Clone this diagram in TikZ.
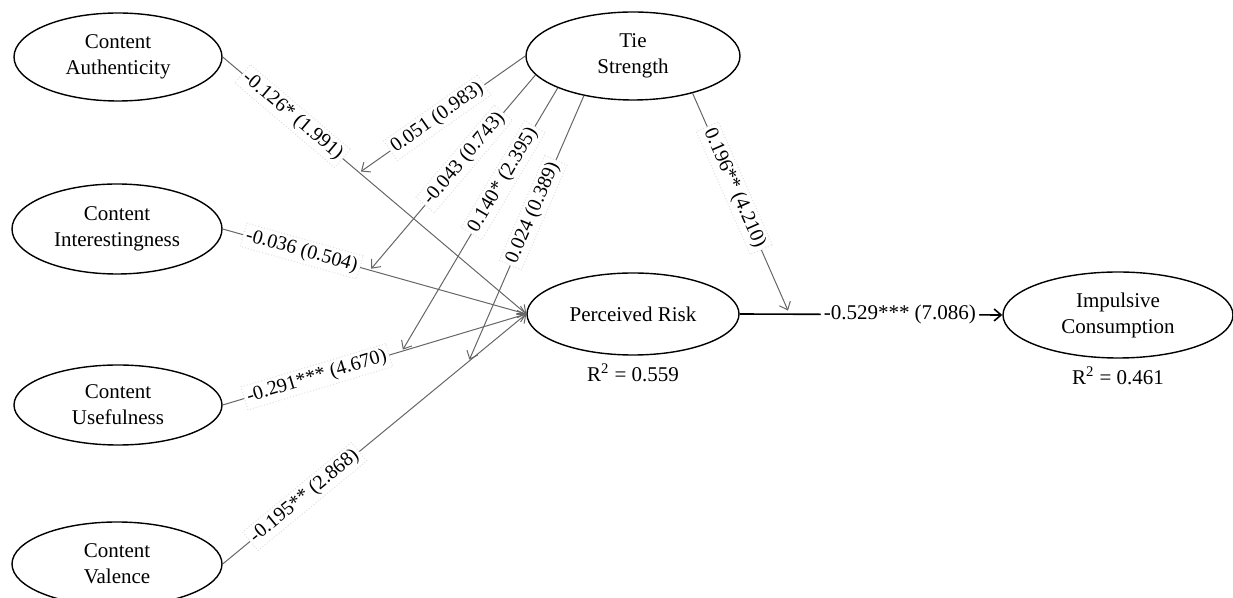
\documentclass[tikz,border=0pt]{standalone}
\usepackage{fontspec}
\setmainfont{Liberation Serif}
\usetikzlibrary{positioning,shapes.geometric,arrows.meta}

\begin{document}
\begin{tikzpicture}
   [x=0.5pt,y=-0.5pt,>={Straight Barb[length=3.5pt,width=6pt]},
    construct/.style={ellipse,draw,line width=0.7pt,inner sep=0pt,align=center,
	 minimum width=104pt,minimum height=44pt,font=\fontsize{10.5}{13}\selectfont},
    link/.style={->,draw=black!60,line width=0.5pt},
    coef/.style={sloped,fill=white,draw=black!12,densely dotted,inner sep=1.5pt,
	 font=\fontsize{10}{12}\selectfont},
    rsq/.style={inner sep=1pt,font=\fontsize{10.5}{12}\selectfont}]

\useasboundingbox (0,0) rectangle (1233,598);

\node [construct] (auth) at (118,57) {Content\\ Authenticity};
\node [construct,minimum width=105pt,minimum height=45pt] (inter) at (117,229) {Content\\ Interestingness};
\node [construct,minimum height=40pt] (use) at (118,405) {Content\\ Usefulness};
\node [construct,minimum width=105pt,minimum height=42pt] (val) at (117,564) {Content\\ Valence};
\node [construct,minimum width=107pt] (tie) at (633,56) {Tie\\ Strength};
\node [construct,minimum width=106pt,minimum height=41pt] (risk) at (633,314) {Perceived Risk};
\node [construct,minimum width=115pt,minimum height=43pt] (imp) at (1118,315) {Impulsive\\ Consumption};

\node [rsq,below=3pt of risk] (rrisk) {R\textsuperscript{2} = 0.559};
\node [rsq,below=3pt of imp] (rimp) {R\textsuperscript{2} = 0.461};

\draw [link] (auth.east) -- node [coef,pos=0.23] {-0.126* (1.991)}
		coordinate [pos=0.45] (mauth) (risk.west);
\draw [link] (inter.east) -- node [coef,pos=0.26] {-0.036 (0.504)}
		coordinate [pos=0.485] (minter) (risk.west);
\draw [link] (use.east) -- node [coef,pos=0.31] {-0.291*** (4.670)}
		coordinate [pos=0.59] (muse) (risk.west);
\draw [link] (val.east) -- node [coef,pos=0.27] {-0.195** (2.868)}
		coordinate [pos=0.81] (mval) (risk.west);
\draw [->,line width=0.8pt] (risk.east) -- node [coef,draw=none,pos=0.61,
		font=\fontsize{10.5}{12}\selectfont] {-0.529*** (7.086)}
		coordinate [pos=0.19] (mrisk) (imp.west);

\draw [link,shorten >=1pt] (tie.180) -- node [coef,pos=0.53] {0.051 (0.983)} (mauth);
\draw [link,shorten >=1pt] (tie.191) -- node [coef,pos=0.43] {-0.043 (0.743)} (minter);
\draw [link,shorten >=1pt] (tie.203) -- node [coef,pos=0.35] {0.140* (2.395)} (muse);
\draw [link,shorten >=1pt] (tie.219) -- node [coef,pos=0.44] {0.024 (0.389)} (mval);
\draw [link,shorten >=2pt] (tie.328) -- node [coef,pos=0.43] {0.196** (4.210)} (mrisk);
\end{tikzpicture}
\end{document}
